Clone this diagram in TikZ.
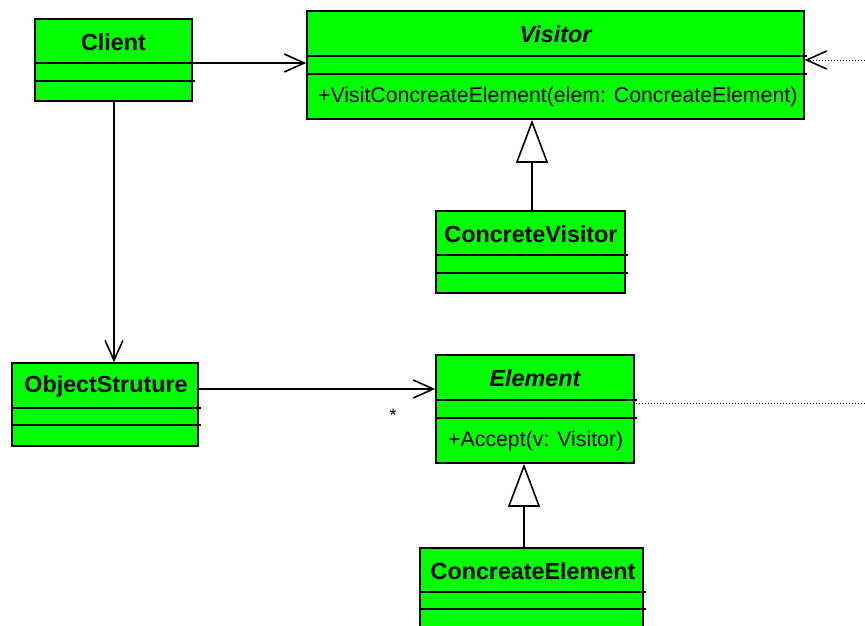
\documentclass[tikz,border=0pt]{standalone}
\usepackage{fontspec}
\setmainfont{Liberation Sans}
\usetikzlibrary{arrows.meta, calc}
\definecolor{umlgreen}{RGB}{0,255,0}

\tikzset{
  classbox/.style={draw=black, fill=umlgreen, line width=1.6pt, inner sep=0pt, rectangle},
  classname/.style={font=\fontsize{23.3}{27}\selectfont\bfseries, inner sep=0pt},
  abstractname/.style={font=\fontsize{23.3}{27}\selectfont\bfseries\itshape, inner sep=0pt},
  method/.style={font=\fontsize{21.3}{25}\selectfont, anchor=west, inner sep=0pt},
  sepline/.style={line width=1.6pt},
  assoc/.style={line width=1.6pt, -{Straight Barb[length=20pt, width=18pt]}},
  inherit/.style={line width=1.6pt, -{Triangle[open, length=43pt, width=32pt]}},
  depend/.style={line width=1pt, dash pattern=on 1pt off 2pt}
}

\begin{document}
\begin{tikzpicture}[x=1pt, y=-1pt]
        \clip (0,0) rectangle (865,625);

        % Client
        \node[classbox, minimum width=157pt, minimum height=82pt] (client) at (113.5,60) {};
        \node[classname] (clientname) at (113.5,42) {Client};
        \draw[sepline] (client.west |- 0,63) -- ([xshift=2pt]client.east |- 0,63);
        \draw[sepline] (client.west |- 0,81) -- ([xshift=2pt]client.east |- 0,81);

        % Visitor (abstract)
        \node[classbox, minimum width=497pt, minimum height=108pt] (visitor) at (555.5,65) {};
        \node[abstractname] (visitorname) at (555.5,34) {Visitor};
        \draw[sepline] (visitor.west |- 0,56) -- ([xshift=2pt]visitor.east |- 0,56);
        \draw[sepline] (visitor.west |- 0,74) -- ([xshift=2pt]visitor.east |- 0,74);
        \node[method] (visitorop) at (318,97) {+VisitConcreateElement(elem: ConcreateElement)};

        % ConcreteVisitor
        \node[classbox, minimum width=189pt, minimum height=82pt] (cvisitor) at (530.5,252) {};
        \node[classname] (cvisitorname) at (531,234) {ConcreteVisitor};
        \draw[sepline] (cvisitor.west |- 0,255) -- ([xshift=2pt]cvisitor.east |- 0,255);
        \draw[sepline] (cvisitor.west |- 0,273) -- ([xshift=2pt]cvisitor.east |- 0,273);

        % ObjectStruture
        \node[classbox, minimum width=186pt, minimum height=83pt] (objstruct) at (105,404.5) {};
        \node[classname] (objstructname) at (106,386) {ObjectStruture};
        \draw[sepline] (objstruct.west |- 0,408) -- ([xshift=2pt]objstruct.east |- 0,408);
        \draw[sepline] (objstruct.west |- 0,425) -- ([xshift=2pt]objstruct.east |- 0,425);

        % Element (abstract)
        \node[classbox, minimum width=198pt, minimum height=108pt] (element) at (535,409) {};
        \node[abstractname] (elementname) at (535,378) {Element};
        \draw[sepline] (element.west |- 0,400) -- ([xshift=2pt]element.east |- 0,400);
        \draw[sepline] (element.west |- 0,418) -- ([xshift=2pt]element.east |- 0,418);
        \node[method] (elementop) at (448,441) {+Accept(v: Visitor)};

        % ConcreateElement
        \node[classbox, minimum width=223pt, minimum height=79pt] (celement) at (531.5,587.5) {};
        \node[classname] (celementname) at (533,571) {ConcreateElement};
        \draw[sepline] (celement.west |- 0,592) -- ([xshift=2pt]celement.east |- 0,592);
        \draw[sepline] (celement.west |- 0,609) -- ([xshift=2pt]celement.east |- 0,609);

        % Associations
        \draw[assoc] ([yshift=-3pt]client.east) -- ([yshift=-3pt]client.east -| visitor.west);
        \draw[assoc] ([xshift=0.5pt]client.south) -- ([xshift=0.5pt]client.south |- objstruct.north);
        \draw[assoc] ([yshift=15.5pt]objstruct.east) -- ([yshift=15.5pt]objstruct.east -| element.west);
        \node[font=\fontsize{18}{20}\selectfont, inner sep=0pt] (many) at (393,415) {*};

        % Generalizations
        \draw[inherit] ([xshift=1.5pt]cvisitor.north) -- ([xshift=1.5pt]cvisitor.north |- visitor.south);
        \draw[inherit] ([xshift=-7.5pt]celement.north) -- ([xshift=-7.5pt]celement.north |- element.south);

        % Dotted links off the right edge
        \coordinate (visitorend) at (865,60);
        \coordinate (elementend) at (865,403);
        \draw[depend, -{Straight Barb[length=20pt, width=18pt, line width=1.6pt]}] (visitorend) -- (visitorend -| visitor.east);
        \draw[depend] ([xshift=1pt]elementend -| element.east) -- (elementend);

    \end{tikzpicture}
\end{document}
